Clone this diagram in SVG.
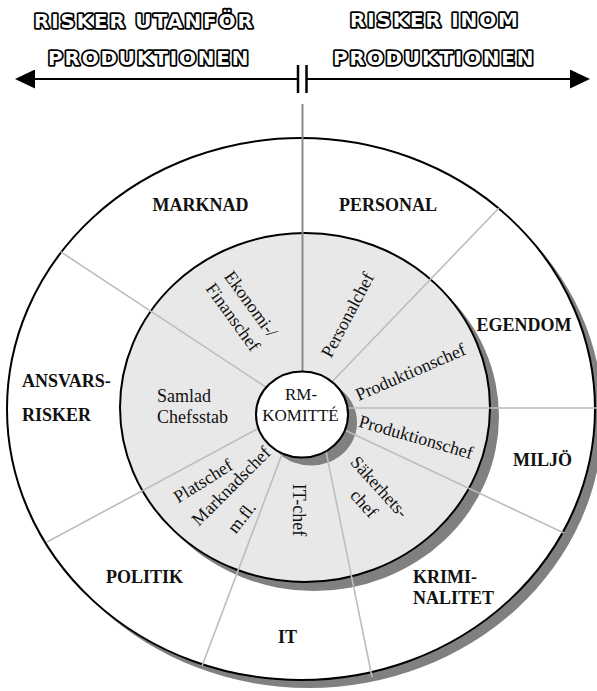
<svg xmlns="http://www.w3.org/2000/svg" width="597" height="691" viewBox="0 0 597 691">
  <style>
    .hdr { font-family: "DejaVu Sans", "Liberation Sans", Arial, sans-serif; font-weight: bold; font-size: 20px; letter-spacing: 1.8px; fill: #ffffff; stroke: #000000; stroke-width: 3.6px; stroke-linejoin: round; paint-order: stroke; }
    .sector { font-family: "Liberation Serif", "Times New Roman", serif; font-weight: bold; font-size: 18px; fill: #111111; }
    .role { font-family: "Liberation Serif", "Times New Roman", serif; font-size: 18px; fill: #111111; }
    .core { font-family: "Liberation Serif", "Times New Roman", serif; font-size: 17px; fill: #111111; text-anchor: middle; }
    .mid { text-anchor: middle; }
    .shadow { fill: #808080; stroke: none; }
    .ring { fill: #ffffff; stroke: #000000; stroke-width: 2; }
    .staff { fill: #e8e8e8; stroke: #000000; stroke-width: 2; }
    .spoke { stroke: #bdbdbd; stroke-width: 1.6; fill: none; }
    .divider { stroke: #8a8a8a; stroke-width: 2; fill: none; }
    .axis { stroke: #000000; stroke-width: 2; fill: none; }
    .tick { stroke: #000000; stroke-width: 2.5; }
  </style>
  <defs>
    <marker id="head" markerUnits="userSpaceOnUse" markerWidth="20" markerHeight="19" refX="5" refY="9.5" orient="auto">
      <path d="M0,0 L20,9.5 L0,19 Z" fill="#000000"/>
    </marker>
  </defs>

  <rect width="597" height="691" fill="#ffffff"/>

  <!-- header: two directions split at the production boundary -->
  <g id="header">
    <line class="axis" x1="298" y1="79" x2="30" y2="79" marker-end="url(#head)"/>
    <line class="axis" x1="306.5" y1="79" x2="575" y2="79" marker-end="url(#head)"/>
    <line class="tick" x1="298" y1="65" x2="298" y2="93"/>
    <line class="tick" x1="306.5" y1="65" x2="306.5" y2="93"/>
    <text class="hdr" x="34" y="28">RISKER UTANFÖR</text>
    <text class="hdr" x="48" y="65">PRODUKTIONEN</text>
    <text class="hdr" x="350" y="27">RISKER INOM</text>
    <text class="hdr" x="333" y="65">PRODUKTIONEN</text>
  </g>

  <!-- outer risk ring and inner management disc -->
  <g id="rings">
    <ellipse class="shadow" cx="309" cy="417" rx="294" ry="271"/>
    <ellipse class="ring" cx="301" cy="409" rx="294" ry="271"/>
    <ellipse class="shadow" cx="314" cy="416.5" rx="185" ry="174.5"/>
    <ellipse class="staff" cx="305" cy="407.5" rx="185" ry="174.5"/>
    <ellipse class="shadow" cx="311" cy="422.5" rx="46" ry="43"/>
  </g>

  <!-- sector boundaries -->
  <g id="connectors">
    <line class="divider" x1="302.5" y1="104" x2="302.5" y2="414"/>
    <line class="spoke" x1="302" y1="411" x2="61" y2="252"/>
    <line class="spoke" x1="302" y1="413" x2="499" y2="208"/>
    <line class="spoke" x1="302" y1="408" x2="597" y2="408"/>
    <line class="spoke" x1="302" y1="410" x2="564" y2="533"/>
    <line class="spoke" x1="318" y1="412" x2="372" y2="677"/>
    <line class="spoke" x1="298" y1="412" x2="202" y2="666"/>
    <line class="spoke" x1="302" y1="405" x2="47" y2="542"/>
  </g>

  <!-- outer ring: risk areas -->
  <g id="marknad"><text class="sector mid" x="200.5" y="211">MARKNAD</text></g>
  <g id="personal"><text class="sector mid" x="388" y="211">PERSONAL</text></g>
  <g id="egendom"><text class="sector mid" x="524" y="331">EGENDOM</text></g>
  <g id="miljo"><text class="sector mid" x="542.5" y="466">MILJÖ</text></g>
  <g id="kriminalitet">
    <text class="sector" x="413" y="583">KRIMI-</text>
    <text class="sector" x="413" y="604">NALITET</text>
  </g>
  <g id="it"><text class="sector mid" x="287.5" y="643">IT</text></g>
  <g id="politik"><text class="sector mid" x="144.5" y="583">POLITIK</text></g>
  <g id="ansvarsrisker">
    <text class="sector" x="22" y="387">ANSVARS-</text>
    <text class="sector" x="22" y="421">RISKER</text>
  </g>

  <!-- inner disc: responsible managers -->
  <g id="ekonomichef" class="role">
    <text class="mid" transform="translate(251 304) rotate(54)" y="6">Ekonomi-/</text>
    <text class="mid" transform="translate(233 317) rotate(54)" y="6">Finanschef</text>
  </g>
  <g id="personalchef" class="role">
    <text class="mid" transform="translate(347.5 315) rotate(-62)" y="6">Personalchef</text>
  </g>
  <g id="produktionschef-1" class="role">
    <text class="mid" transform="translate(410.5 372) rotate(-23.5)" y="6">Produktionschef</text>
  </g>
  <g id="produktionschef-2" class="role">
    <text class="mid" transform="translate(416 437) rotate(16)" y="6">Produktionschef</text>
  </g>
  <g id="sakerhetschef" class="role">
    <text class="mid" transform="translate(379.5 487) rotate(48)" y="6">Säkerhets-</text>
    <text class="mid" transform="translate(364 503.5) rotate(48)" y="6">chef</text>
  </g>
  <g id="itchef" class="role">
    <text class="mid" transform="translate(298.5 510) rotate(90)" y="6">IT-chef</text>
  </g>
  <g id="platschef" class="role">
    <text class="mid" transform="translate(203 481) rotate(-32)" y="6">Platschef</text>
    <text class="mid" transform="translate(231 486) rotate(-45)" y="6">Marknadschef</text>
    <text class="mid" transform="translate(241.5 517.5) rotate(-52)" y="6">m.fl.</text>
  </g>
  <g id="chefsstab" class="role">
    <text x="157" y="402">Samlad</text>
    <text x="157" y="423">Chefsstab</text>
  </g>

  <!-- centre: risk management committee -->
  <g id="rm-komitte">
    <ellipse cx="302" cy="414.5" rx="46" ry="43" fill="#ffffff" stroke="#000000" stroke-width="2"/>
    <text class="core" x="301" y="400">RM-</text>
    <text class="core" x="300.5" y="421">KOMITTÉ</text>
  </g>
</svg>
